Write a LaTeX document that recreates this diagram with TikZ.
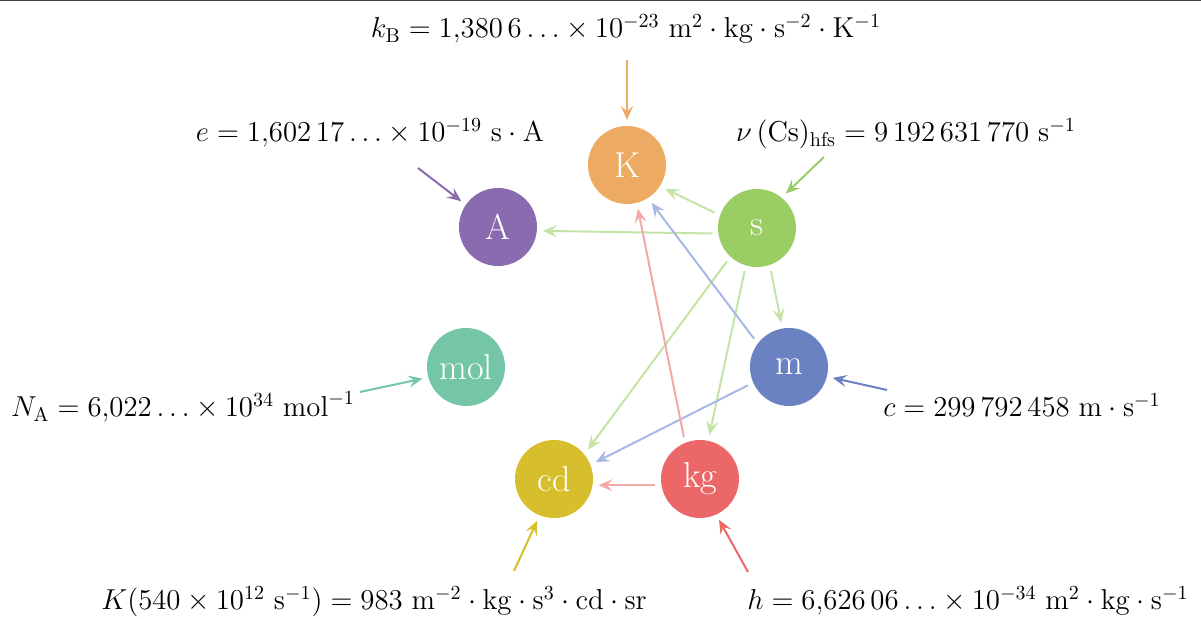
\documentclass[tikz,border=0pt]{standalone}
\usetikzlibrary{arrows.meta}
\definecolor{cK}{HTML}{EDAA62}
\definecolor{cA}{HTML}{8A6BAF}
\definecolor{cs}{HTML}{9ACD63}
\definecolor{cmol}{HTML}{74C6A6}
\definecolor{cm}{HTML}{6B82C2}
\definecolor{ccd}{HTML}{D7BE2C}
\definecolor{ckg}{HTML}{EC6868}
\definecolor{ls}{HTML}{C5E3A5}
\definecolor{lm}{HTML}{A9B8E2}
\definecolor{lkg}{HTML}{F4A9A9}
\begin{document}
\begin{tikzpicture}[x=0.5pt,y=-0.5pt,
  unit/.style={circle,fill=#1,text=white,minimum size=39pt,inner sep=0pt,outer sep=3pt,
    font=\fontsize{18}{20}\selectfont},
  lbl/.style={anchor=base,inner sep=0pt,font=\fontsize{13.6}{16}\selectfont},
  link/.style={draw=#1,line width=1pt,-{Stealth[length=7pt,width=6pt,inset=2.8pt]}}]
\useasboundingbox (0,0) rectangle (1201,619);
\draw[line width=1pt,color=black!75] (0,0.5) -- (1201,0.5);
% units
\node[unit=cK] (K) at (627,165) {K};
\node[unit=cA] (A) at (498,227) {A};
\node[unit=cs] (s) at (757,228) {s};
\node[unit=cmol] (mol) at (466,367) {mol};
\node[unit=cm] (m) at (789,367) {m};
\node[unit=ccd] (cd) at (554,479) {cd};
\node[unit=ckg] (kg) at (700,479) {kg};
% labels
\node[lbl] (lkB) at (626,38) {$k_{\mathrm{B}} = 1{,}380\,6\ldots\times 10^{-23}\ \mathrm{m}^2\cdot\mathrm{kg}\cdot\mathrm{s}^{-2}\cdot\mathrm{K}^{-1}$};
\node[lbl] (le) at (370,142) {$e = 1{,}602\,17\ldots\times 10^{-19}\ \mathrm{s}\cdot\mathrm{A}$};
\node[lbl] (lnu) at (906,142) {$\nu\,(\mathrm{Cs})_{\mathrm{hfs}} = 9\,192\,631\,770\ \mathrm{s}^{-1}$};
\node[lbl] (lNA) at (183,417) {$N_{\mathrm{A}} = 6{,}022\ldots\times 10^{34}\ \mathrm{mol}^{-1}$};
\node[lbl] (lc) at (1022,417) {$c = 299\,792\,458\ \mathrm{m}\cdot\mathrm{s}^{-1}$};
\node[lbl] (lKcd) at (374,610) {$K(540\times 10^{12}\ \mathrm{s}^{-1}) = 983\ \mathrm{m}^{-2}\cdot\mathrm{kg}\cdot\mathrm{s}^{3}\cdot\mathrm{cd}\cdot\mathrm{sr}$};
\node[lbl] (lh) at (968,610) {$h = 6{,}626\,06\ldots\times 10^{-34}\ \mathrm{m}^2\cdot\mathrm{kg}\cdot\mathrm{s}^{-1}$};
% free ends
\coordinate (tK) at (627,60);
\coordinate (tA) at (418,168);
\coordinate (ts) at (824,157);
\coordinate (tmol) at (360,392);
\coordinate (tm) at (887,390);
\coordinate (tcd) at (514,571);
\coordinate (tkg) at (748,572);
% constant arrows
\draw[link=cK] (tK) -- (K.90);
\draw[link=cA] (tA) -- (A.145);
\draw[link=cs] (ts) -- (s.50);
\draw[link=cmol] (tmol) -- (mol.195);
\draw[link=cm] (tm) -- (m.346);
\draw[link=ccd] (tcd) -- (cd.248);
\draw[link=ckg] (tkg) -- (kg.295);
% dependencies
\draw[link=ls] (s.160) -- (K.328);
\draw[link=ls] (s.187) -- (A.355);
\draw[link=ls] (s.288) -- (m.100);
\draw[link=ls] (s.254) -- (kg.78);
\draw[link=ls] (s.228) -- (cd.41);
\draw[link=lm] (m.141) -- (K.303);
\draw[link=lm] (m.204) -- (cd.22);
\draw[link=lkg] (kg.111) -- (K.284);
\draw[link=lkg] (kg.188) -- (cd.352);
\end{tikzpicture}
\end{document}
